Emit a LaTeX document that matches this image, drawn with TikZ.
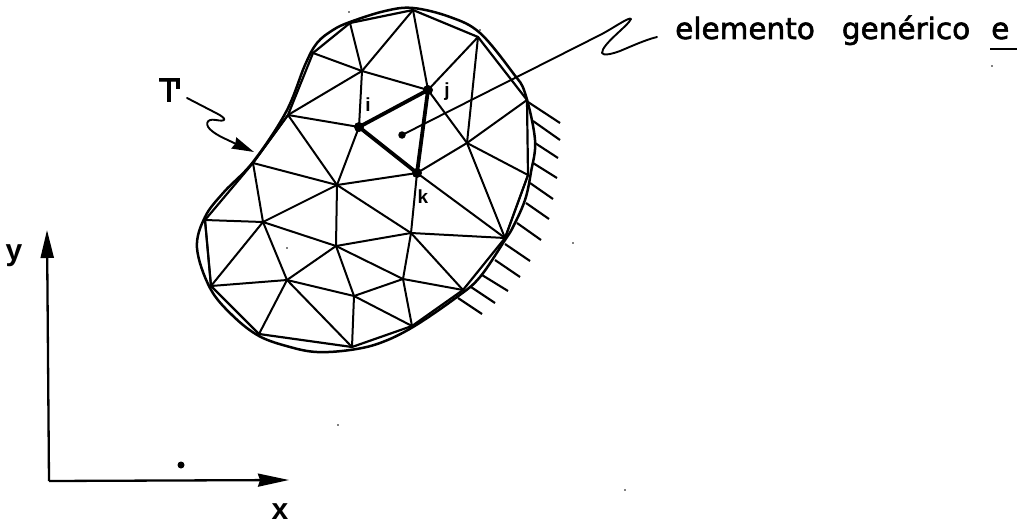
\documentclass[tikz,border=0pt]{standalone}
\usepackage{fontspec}
\setmainfont{Liberation Sans}
\newfontfamily\leroy[FakeBold=2]{DejaVu Sans}
\newfontfamily\heavyT[FakeBold=2.5]{Liberation Sans}
\usetikzlibrary{arrows.meta}
\tikzset{
  mesh/.style={line width=2pt,black,line cap=round},
  chord/.style={line width=2.2pt,black,line cap=round},
  bold edge/.style={line width=3.8pt,black,line cap=round},
  hatch/.style={line width=2.1pt,black},
  leader/.style={line width=1.9pt,black,line cap=round,line join=round},
  axis/.style={line width=2.3pt,black},
  vertexdot/.style={circle,fill=black,inner sep=0pt,minimum size=10pt},
  speck/.style={circle,fill=black,inner sep=0pt,minimum size=1.8pt},
  nodelabel/.style={font=\fontsize{19}{19}\selectfont\bfseries,inner sep=0pt},
  axislabel/.style={font=\fontsize{30}{30}\selectfont\bfseries,inner sep=0pt},
}
\begin{document}
\begin{tikzpicture}[x=1pt,y=-1pt]
\useasboundingbox (0,0) rectangle (1024,527);
% mesh vertices
\foreach \n/\p in {A/{350,23},B/{313,53},C/{362,71},D/{288,115},E/{253,163},F/{413,10},G/{478,37},
  H/{527,100},I/{467,143},J/{528,175},L/{205,220},M/{263,222},N/{337,185},O/{336,246},P/{211,286},
  Q/{287,280},R/{354,296},S/{259,334},T/{352,347},U/{411,233},V/{505,238},W/{403,279},X/{463,290},
  Y/{412,326},vi/{359,127},vj/{428,90},vk/{417,173}}
  {\coordinate (\n) at (\p);}
% boundary
\draw[line width=2.5pt,line join=round] plot[smooth cycle,tension=0.6] coordinates
  {(350,22) (385,11) (413,8) (450,17) (480,33) (513,73) (525,93) (535,140) (531,172) (525,200) (513,227) (505,240) (480,277) (457,297) (413,327) (380,343) (350,350) (317,352) (290,347) (259,336) (232,315) (210,288) (197,248) (205,217) (224,192) (253,162) (286,112) (305,65) (317,43) (333,30)};
% chords along boundary
\draw[chord] (A)--(F)--(G)--(H)--(J)--(V)--(X)--(Y)--(T)--(S)--(P)--(L)--(E)--(D)--(B)--(A);
% interior edges
\foreach \a/\b in {A/C,B/C,C/D,C/vi,C/F,C/vj,D/vi,D/E,D/N,vi/N,E/N,E/M,F/vj,G/vj,G/I,H/I,I/J,I/V,I/vj,I/vk,
  J/V,vk/V,vk/U,vk/N,N/M,N/O,N/U,M/O,M/L,M/P,M/Q,L/P,P/Q,Q/S,Q/O,Q/R,Q/T,O/U,O/R,O/W,R/T,R/W,R/Y,
  U/V,U/W,U/X,W/X,W/Y}
  \draw[mesh] (\a)--(\b);
% element e
\draw[bold edge,line join=round] (vi)--(vj)--(vk)--cycle;
\node[vertexdot] (ni) at (vi) {};
\node[vertexdot] (nj) at (vj) {};
\node[vertexdot] (nk) at (vk) {};
\node[nodelabel] (li) at (368,105) {i};
\node[nodelabel] (lj) at (447,92) {j};
\node[nodelabel] (lk) at (423,197) {k};
% fixed-side hatching
\foreach \a/\b/\c/\d in {528/102/560/123,533/121/560/140,535/143/558/158,533/163/557/178,530/183/553/199,526/203/549/219,
  517/223/541/240,505/244/530/261,495/260/520/277,482/275/508/291,471/287/495/303,458/298/482/314}
  \draw[hatch] (\a,\b)--(\c,\d);
% generic element leader
\node[circle,fill=black,inner sep=0pt,minimum size=7.5pt] (edot) at (402,135) {};
\coordinate (e1) at (600,35);
\coordinate (e2) at (631,19);
\coordinate (e3) at (602,53);
\coordinate (e4) at (657,37);
\draw[leader] (edot.center)--(e1) .. controls (612,29) and (630,16) .. (e2)
  .. controls (628,26) and (602,44) .. (e3) .. controls (603,56) and (612,54) .. (620,51)
  .. controls (632,46) and (645,40) .. (e4);
\node[anchor=base west,inner sep=0pt,font=\leroy\fontsize{29.5}{30}\selectfont] (elab) at (675,39)
  {elemento\hspace{27pt}genérico\hspace{21pt}e};
\coordinate (u1) at (990,49);
\coordinate (u2) at (1017,49);
\draw[line width=2.6pt] (u1)--(u2);
% boundary label
\node[inner sep=0pt,anchor=center,font=\heavyT\fontsize{33}{33}\selectfont] (gam) at (169,90) {T};
\coordinate (g1) at (178,78);
\coordinate (g2) at (178,89);
\draw[line width=3.8pt] (g1)--(g2);
\coordinate (t0) at (187,98);
\coordinate (t1) at (216,113);
\coordinate (t2) at (234,143);
\coordinate (t3) at (254,152);
\draw[leader,-{Stealth[length=22pt,width=12pt,inset=1.5pt]}] (t0)--(t1) .. controls (228,119) and (226,122) .. (216,120)
  .. controls (205,118) and (205,126) .. (212,131) .. controls (218,136) and (226,139) .. (t2) -- (t3);
% axes
\coordinate (o) at (49,481);
\coordinate (ytip) at (47,230);
\coordinate (xtip) at (289,480);
\draw[axis,-{Triangle[length=28pt,width=13pt]}] (o)--(ytip);
\draw[axis,-{Stealth[length=31pt,width=13pt,inset=2pt]}] (o)--(xtip);
\node[axislabel] (ylab) at (14,256) {y};
\node[axislabel] (xlab) at (280,512) {x};
% specks
\node[circle,fill=black,inner sep=0pt,minimum width=7pt,minimum height=4.5pt] (s0) at (181,465) {};
\foreach \n/\p in {s1/{573,243},s2/{992,66},s3/{287,248},s4/{625,490},s5/{338,425},s6/{349,12},s7/{480,30}}
  \node[speck] (\n) at (\p) {};
\end{tikzpicture}
\end{document}
